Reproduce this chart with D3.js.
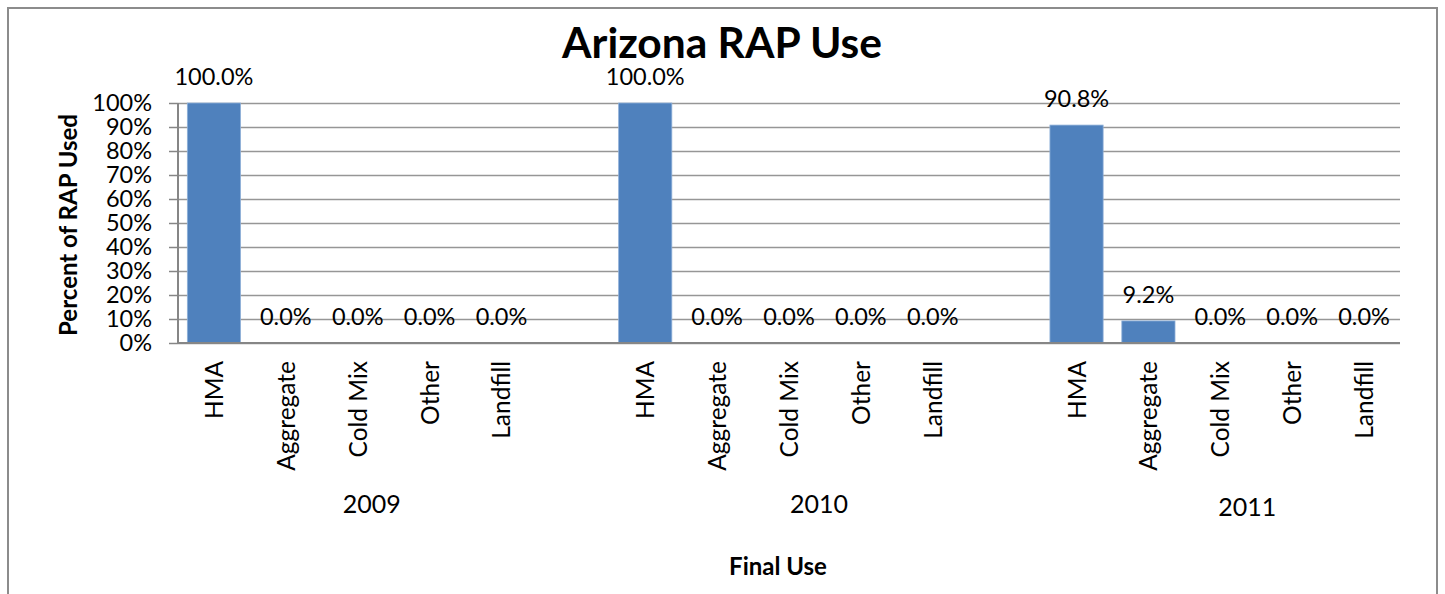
<!DOCTYPE html>
<html>
<head>
<meta charset="utf-8">
<script src="https://cdn.jsdelivr.net/npm/d3@7/dist/d3.min.js"></script>
<style>
  html, body { margin: 0; padding: 0; background: #fff; }
  svg { display: block; font-family: Lato, "Open Sans", sans-serif; }
</style>
</head>
<body>
<svg id="chart" width="1445" height="594"></svg>
<script>
// ---- data ----
const years = ["2009", "2010", "2011"];
const uses = ["HMA", "Aggregate", "Cold Mix", "Other", "Landfill"];
const values2009 = [100.0, 0.0, 0.0, 0.0, 0.0];
const values2010 = [100.0, 0.0, 0.0, 0.0, 0.0];
const values2011 = [90.8, 9.2, 0.0, 0.0, 0.0];
const yTicks = [0, 10, 20, 30, 40, 50, 60, 70, 80, 90, 100];
const title = "Arizona RAP Use";
const yTitle = "Percent of RAP Used";
const xTitle = "Final Use";

// ---- build slot table (blank slot between year groups, as in the original) ----
const seriesByYear = [values2009, values2010, values2011];
const slots = [];
years.forEach((yr, gi) => {
  uses.forEach((u, ui) => {
    slots.push({ key: yr + "|" + u, year: yr, use: u, value: seriesByYear[gi][ui], blank: false });
  });
  if (gi < years.length - 1) slots.push({ key: "gap" + gi, blank: true });
});

const svg = d3.select("#chart");
const plot = { left: 178, right: 1400, top: 103, bottom: 343 };

// outer chart border
svg.append("rect")
  .attr("x", 8).attr("y", 8)
  .attr("width", 1429).attr("height", 620)
  .attr("fill", "none").attr("stroke", "#8c8c8c").attr("stroke-width", 2);

const x = d3.scaleBand()
  .domain(slots.map(d => d.key))
  .range([plot.left, plot.right])
  .paddingInner(0.26).paddingOuter(0.13);
const y = d3.scaleLinear().domain([0, 100]).range([plot.bottom, plot.top]);

// gridlines + y axis
const yAxis = d3.axisLeft(y).tickValues(yTicks).tickFormat(d => d + "%")
  .tickSize(-(plot.right - plot.left)).tickSizeOuter(0).tickPadding(26);
const gy = svg.append("g").attr("transform", `translate(${plot.left},0)`).call(yAxis);
gy.select(".domain").remove();
gy.selectAll(".tick line").attr("stroke", "#969696").attr("stroke-width", 1.5);
gy.selectAll(".tick text").attr("font-size", 23.5).attr("fill", "#000")
  .attr("font-family", "Lato, sans-serif");
// outside tick marks
gy.selectAll(".tick").append("line")
  .attr("x1", -9).attr("x2", 0).attr("y1", 0).attr("y2", 0)
  .attr("stroke", "#868686").attr("stroke-width", 1.5);
// vertical axis line
svg.append("line")
  .attr("x1", plot.left).attr("x2", plot.left)
  .attr("y1", plot.top).attr("y2", plot.bottom)
  .attr("stroke", "#868686").attr("stroke-width", 2);

// bars
const dataSlots = slots.filter(d => !d.blank);
svg.append("g").selectAll("rect").data(dataSlots).join("rect")
  .attr("x", d => x(d.key))
  .attr("y", d => y(d.value))
  .attr("width", x.bandwidth())
  .attr("height", d => y(0) - y(d.value))
  .attr("fill", "#4F81BD")
  .attr("stroke", "#8fb0d8").attr("stroke-width", 0.8);

// bottom axis line
svg.append("line")
  .attr("x1", plot.left).attr("x2", plot.right)
  .attr("y1", plot.bottom).attr("y2", plot.bottom)
  .attr("stroke", "#868686").attr("stroke-width", 2);

// data labels
svg.append("g").selectAll("text").data(dataSlots).join("text")
  .attr("x", d => x(d.key) + x.bandwidth() / 2)
  .attr("y", d => y(d.value) - 18)
  .attr("text-anchor", "middle")
  .attr("font-size", 23.5)
  .text(d => d.value.toFixed(1) + "%");

// category labels (rotated)
svg.append("g").selectAll("text").data(dataSlots).join("text")
  .attr("transform", d => `translate(${x(d.key) + x.bandwidth() / 2 + 9},361) rotate(-90)`)
  .attr("text-anchor", "end")
  .attr("font-size", 24.5)
  .text(d => d.use);

// year group labels
const yearNudge = [14, 30, 27];
const yearDrop = [513, 513, 516];
svg.append("g").selectAll("text").data(years).join("text")
  .attr("x", (yr, i) => x(yr + "|" + uses[2]) + x.bandwidth() / 2 + yearNudge[i])
  .attr("y", (yr, i) => yearDrop[i])
  .attr("text-anchor", "middle")
  .attr("font-size", 25)
  .text(d => d);

// title
svg.append("text")
  .attr("x", 722).attr("y", 58)
  .attr("text-anchor", "middle")
  .attr("font-size", 42.5).attr("font-weight", "bold")
  .text(title);

// y axis title
svg.append("text")
  .attr("transform", `translate(77,225) rotate(-90)`)
  .attr("text-anchor", "middle")
  .attr("font-size", 24).attr("font-weight", "bold")
  .text(yTitle);

// x axis title
svg.append("text")
  .attr("x", 778).attr("y", 575)
  .attr("text-anchor", "middle")
  .attr("font-size", 24).attr("font-weight", "bold")
  .text(xTitle);
</script>
</body>
</html>
